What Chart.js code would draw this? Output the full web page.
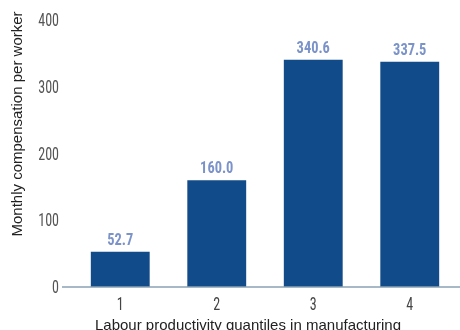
<!DOCTYPE html>
<html>
<head>
<meta charset="utf-8">
<script src="https://cdn.jsdelivr.net/npm/chart.js@4"></script>
<style>
  html, body { margin: 0; padding: 0; background: #fff; }
  #wrap { width: 460px; height: 330px; }
</style>
</head>
<body>
<div id="wrap"><canvas id="c" width="460" height="330"></canvas></div>
<script>
const categories = ['1', '2', '3', '4'];
const compensation = [52.7, 160.0, 340.6, 337.5];
const yTicks = [0, 100, 200, 300, 400];
const xTitle = 'Labour productivity quantiles in manufacturing';
const yTitle = 'Monthly compensation per worker';

const narrow = '"Liberation Sans Narrow", "Roboto Condensed", Roboto, sans-serif';
const plain = '"Liberation Sans", Arial, sans-serif';

// Draw text horizontally compressed to mimic a condensed face
function condensedText(ctx, text, x, y, font, squeeze, align, baseline, color) {
  ctx.save();
  ctx.font = font;
  ctx.fillStyle = color;
  ctx.textAlign = align;
  ctx.textBaseline = baseline;
  ctx.translate(x, y);
  ctx.scale(squeeze, 1);
  ctx.fillText(text, 0, 0);
  ctx.restore();
}

// Tick labels, value labels, axis titles and the zero baseline
const annotations = {
  id: 'annotations',
  afterDatasetsDraw(chart) {
    const ctx = chart.ctx;
    const xs = chart.scales.x;
    const ys = chart.scales.y;
    const area = chart.chartArea;
    const y0 = ys.getPixelForValue(0);

    // zero baseline, reaching a little left of the plot area
    ctx.save();
    ctx.strokeStyle = '#8aa0b4';
    ctx.lineWidth = 1.5;
    ctx.beginPath();
    ctx.moveTo(area.left - 10, y0);
    ctx.lineTo(chart.width, y0);
    ctx.stroke();
    ctx.restore();

    // y tick labels
    yTicks.forEach(v => {
      condensedText(ctx, String(v), 59, ys.getPixelForValue(v) + 1.5,
        '18px ' + narrow, 0.78, 'right', 'middle', '#555');
    });

    // x tick labels
    categories.forEach((c, i) => {
      condensedText(ctx, c, xs.getPixelForValue(i), 305,
        '18px ' + narrow, 0.78, 'center', 'middle', '#444');
    });

    // value labels above bars
    const meta = chart.getDatasetMeta(0);
    meta.data.forEach((bar, i) => {
      condensedText(ctx, compensation[i].toFixed(1), bar.x, bar.y - 7,
        'bold 16px ' + narrow, 0.9, 'center', 'alphabetic', '#7b93c9');
    });

    // axis titles
    ctx.save();
    ctx.fillStyle = '#222';
    ctx.font = '15px ' + plain;
    ctx.textAlign = 'center';
    ctx.textBaseline = 'alphabetic';
    ctx.fillText(xTitle, 248, 330);
    ctx.translate(22, 124);
    ctx.rotate(-Math.PI / 2);
    ctx.font = '15px ' + plain;
    ctx.fillText(yTitle, 0, 0);
    ctx.restore();
  }
};

new Chart(document.getElementById('c'), {
  type: 'bar',
  data: {
    labels: categories,
    datasets: [{
      data: compensation,
      backgroundColor: '#124b89',
      barPercentage: 0.61,
      categoryPercentage: 1.0
    }]
  },
  options: {
    responsive: false,
    animation: false,
    layout: { padding: { top: 20, right: 2, left: 0, bottom: 0 } },
    plugins: { legend: { display: false }, tooltip: { enabled: false } },
    scales: {
      x: {
        grid: { display: false, drawTicks: false },
        border: { display: false },
        ticks: { display: false },
        afterFit(scale) { scale.height = 43; }
      },
      y: {
        min: 0,
        max: 400,
        afterBuildTicks(scale) { scale.ticks = yTicks.map(v => ({ value: v })); },
        grid: { display: false, drawTicks: false },
        border: { display: false },
        ticks: { display: false },
        afterFit(scale) { scale.width = 72; }
      }
    }
  },
  plugins: [annotations]
});
</script>
</body>
</html>
